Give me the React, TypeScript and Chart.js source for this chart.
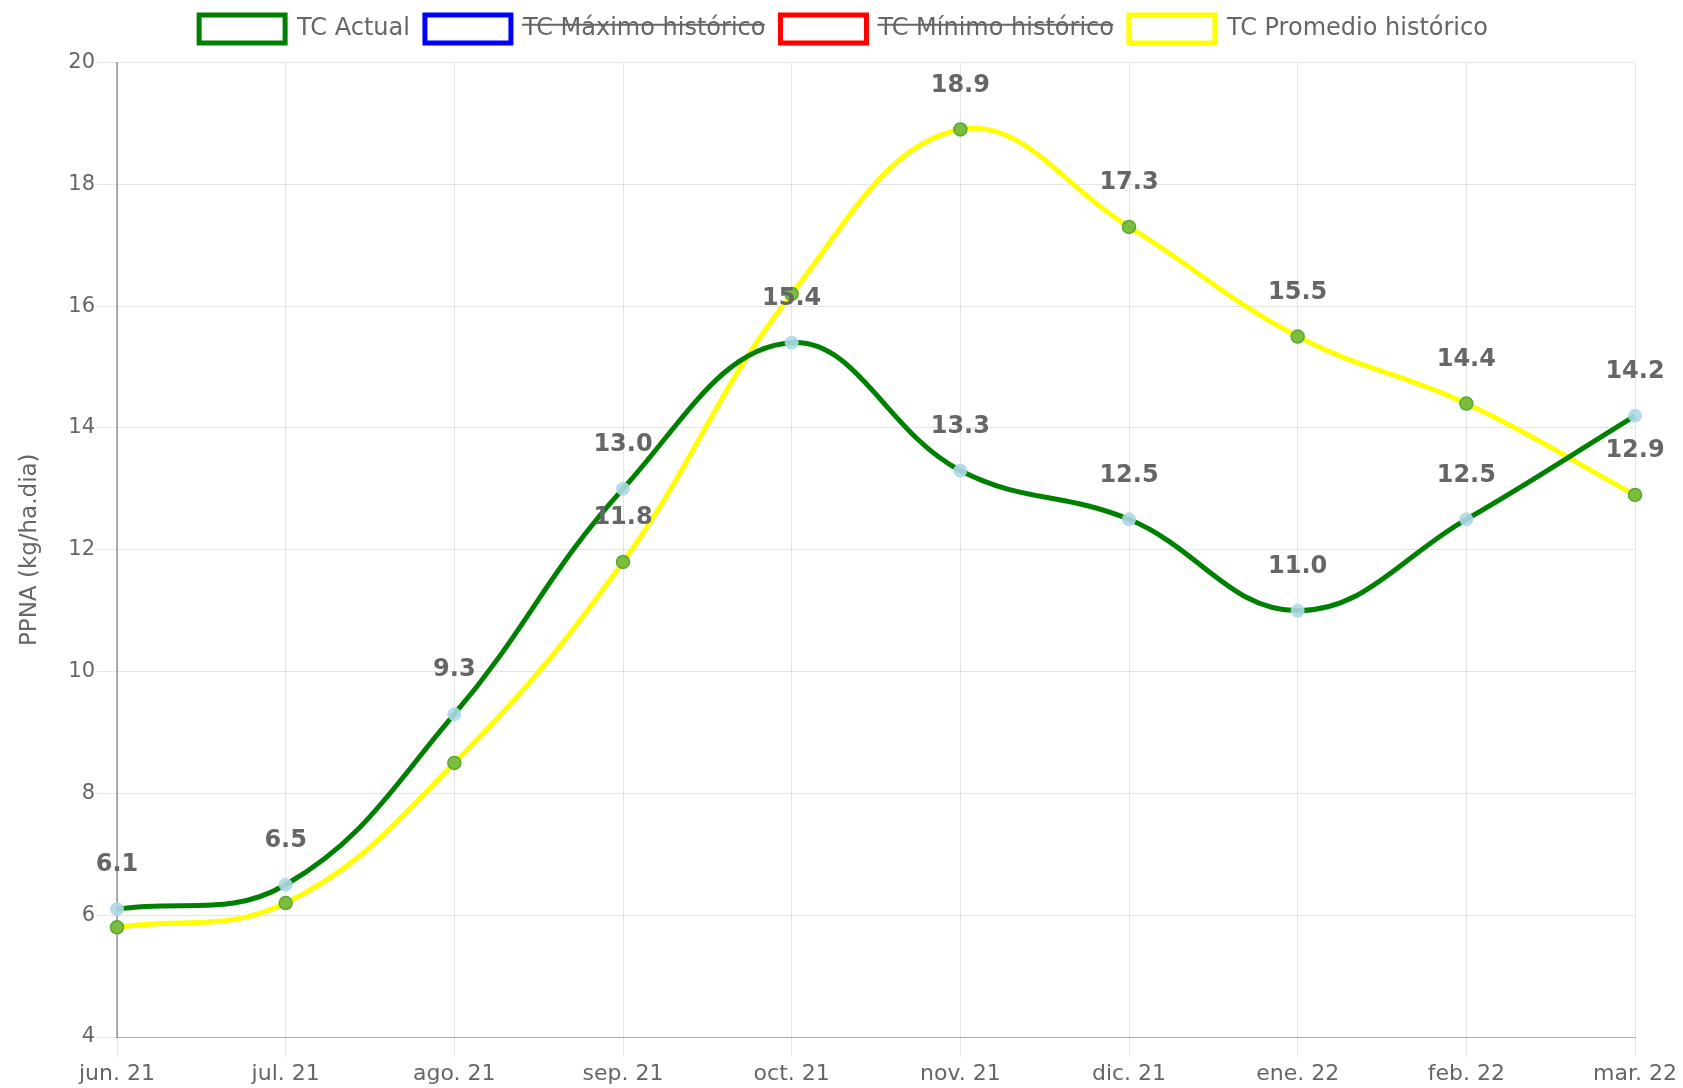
import React, { useEffect, useRef } from "react";
import { Chart, registerables } from "chart.js";

Chart.register(...registerables);

const categories = ["jun. 21", "jul. 21", "ago. 21", "sep. 21", "oct. 21", "nov. 21", "dic. 21", "ene. 22", "feb. 22", "mar. 22"];
const tcActual = [6.1, 6.5, 9.3, 13.0, 15.4, 13.3, 12.5, 11.0, 12.5, 14.2];
const tcMaximo: (number | null)[] = [];
const tcMinimo: (number | null)[] = [];
const tcPromedio = [5.8, 6.2, 8.5, 11.8, 16.2, 18.9, 17.3, 15.5, 14.4, 12.9];
const actualLabelShown = [true, true, true, true, true, true, true, true, true, true];
const promedioLabelShown = [false, false, false, true, false, true, true, true, true, true];
const yTicks = { min: 4, max: 20, step: 2 };

const FONT = "'DejaVu Sans', sans-serif";

const valueLabels = {
  id: "valueLabels",
  afterDatasetsDraw(chart: any) {
    const ctx = chart.ctx;
    const shown: Record<number, boolean[]> = { 0: actualLabelShown, 3: promedioLabelShown };
    ctx.save();
    ctx.font = `bold 24px ${FONT}`;
    ctx.fillStyle = "#666";
    ctx.textAlign = "center";
    ctx.textBaseline = "middle";
    chart.data.datasets.forEach((ds: any, i: number) => {
      if (!chart.isDatasetVisible(i) || !shown[i]) return;
      const meta = chart.getDatasetMeta(i);
      meta.data.forEach((pt: any, j: number) => {
        if (!shown[i][j]) return;
        const v = ds.data[j];
        if (v == null) return;
        ctx.fillText(Number(v).toFixed(1), pt.x, pt.y - 44);
      });
    });
    ctx.restore();
  },
};

export default function App() {
  const ref = useRef<HTMLCanvasElement>(null);
  useEffect(() => {
    if (!ref.current) return;
    const chart = new Chart(ref.current, {
      type: "line",
      data: {
        labels: categories,
        datasets: [
          {
            label: "TC Actual",
            data: tcActual,
            borderColor: "#008000",
            backgroundColor: "#ffffff",
            borderWidth: 5,
            tension: 0.4,
            pointRadius: 6.5,
            pointBackgroundColor: "rgba(173,216,230,0.9)",
            pointBorderColor: "rgba(173,216,230,0.9)",
            pointBorderWidth: 1,
          },
          {
            label: "TC Máximo histórico",
            data: tcMaximo,
            borderColor: "#0000ff",
            backgroundColor: "#ffffff",
            borderWidth: 5,
            hidden: true,
          },
          {
            label: "TC Mínimo histórico",
            data: tcMinimo,
            borderColor: "#ff0000",
            backgroundColor: "#ffffff",
            borderWidth: 5,
            hidden: true,
          },
          {
            label: "TC Promedio histórico",
            data: tcPromedio,
            borderColor: "#ffff00",
            backgroundColor: "#ffffff",
            borderWidth: 5,
            tension: 0.4,
            pointRadius: 6.5,
            pointBackgroundColor: "#7cbd3c",
            pointBorderColor: "#55a835",
            pointBorderWidth: 1.5,
          },
        ],
      },
      options: {
        responsive: false,
        animation: false,
        layout: { padding: { left: 0, right: 48, top: 0, bottom: 0 } },
        plugins: {
          legend: {
            position: "top",
            labels: {
              boxWidth: 86,
              boxHeight: 28,
              color: "#666",
              font: { family: FONT, size: 24 },
              padding: 15,
            },
          },
          tooltip: { enabled: false },
        },
        scales: {
          x: {
            offset: false,
            afterFit: (scale: any) => {
              scale.height = 51;
            },
            grid: { color: "rgba(0,0,0,0.1)", tickLength: 20, lineWidth: 1 },
            border: { color: "rgba(0,0,0,0.25)" },
            ticks: { color: "#666", font: { family: FONT, size: 22 }, padding: 4, maxRotation: 0 },
          },
          y: {
            min: yTicks.min,
            max: yTicks.max,
            afterFit: (scale: any) => {
              scale.width = 117;
            },
            grid: { color: "rgba(0,0,0,0.1)", tickLength: 20 },
            border: { color: "rgba(0,0,0,0.3)", width: 2 },
            ticks: { stepSize: yTicks.step, color: "#666", font: { family: FONT, size: 21 }, padding: 2 },
            title: {
              display: true,
              text: "PPNA (kg/ha.dia)",
              color: "#666",
              font: { family: FONT, size: 23 },
              padding: { top: 16, bottom: 4 },
            },
          },
        },
      },
      plugins: [valueLabels],
    });
    const legend: any = (chart as any).legend;
    if (legend) {
      const origFit = legend.fit;
      legend.fit = function () {
        origFit.call(this);
        this.height = 62.5;
      };
      const origDraw = legend.draw;
      legend.draw = function (...args: any[]) {
        const ctx = this.ctx;
        ctx.save();
        ctx.translate(26, 0);
        origDraw.apply(this, args);
        ctx.restore();
      };
      chart.update();
    }
    return () => chart.destroy();
  }, []);
  return (
    <div style={{ position: "fixed", left: 0, top: 0, width: 1683, height: 1088, background: "#fff" }}>
      <canvas ref={ref} width={1683} height={1088} style={{ display: "block" }} />
    </div>
  );
}
